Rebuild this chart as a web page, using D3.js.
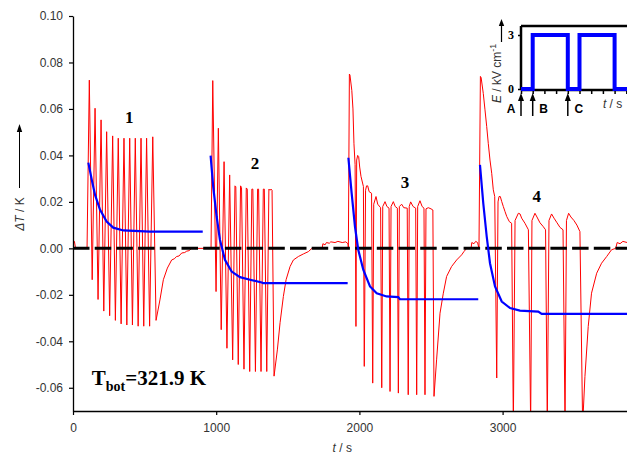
<!DOCTYPE html>
<html>
<head>
<meta charset="utf-8">
<script src="https://cdn.jsdelivr.net/npm/d3@7"></script>
<style>
body { margin: 0; background: #fff; }
svg { display: block; }
</style>
</head>
<body>
<svg width="627" height="454"></svg>
<script>
// red trace: measured dT (t in s, dT in K)
const redPre = [[0,0.003],[10,0.003],[18,0],[98,0]];
const redRun1 = [[114,0.0724],[134,-0.0135],[154,0.0603],[175,-0.022],[196,0.0553],[215,-0.027],[235,0.0502],[256,-0.029],
  [277,0.0484],[296,-0.031],[316,0.0474],[336,-0.0325],[356,0.0474],[376,-0.033],[396,0.0474],[415,-0.033],[435,0.0474],
  [455,-0.0335],[475,0.0474],[494,-0.0335],[514,0.0474],[535,-0.0335],[557,0.048],[580,-0.031],[607,-0.0222],[631,-0.0135],
  [659,-0.0085],[689,-0.005],[707,-0.0045],[724,-0.0035],[740,-0.0033],[759,-0.002],[780,-0.0018],[794,-0.0012],[810,-0.001],
  [829,0],[964,0]];
const redRun2 = [[976,0.0722],[999,-0.0186],[1015,0.0517],[1035,-0.035],[1055,0.0373],[1075,-0.043],[1094,0.0316],[1115,-0.048],
  [1131,0.0269],[1137,0.0265],[1154,-0.050],[1170,0.0269],[1177,0.0262],[1194,-0.052],[1210,0.026],[1217,0.0255],[1234,-0.053],
  [1249,0.0255],[1256,0.0255],[1274,-0.053],[1289,0.0255],[1296,0.0255],[1313,-0.053],[1329,0.0255],[1336,0.0255],[1353,-0.053],
  [1368,0.0255],[1376,0.025],[1383,0.0255],[1390,0.025],[1404,-0.055],[1427,-0.0437],[1446,-0.032],[1469,-0.0207],[1488,-0.0135],
  [1516,-0.0078],[1539,-0.005],[1574,-0.0035],[1609,-0.0024],[1644,-0.0014],[1668,0],[1740,0],[1745,0.002],[1760,0.0015],
  [1770,0.0025],[1790,0.0022],[1800,0.0028],[1830,0.0025],[1850,0.003],[1880,0.0025],[1905,0.0028],[1920,0.002],[1923,0]];
const redRun3 = [[1930,0.075],[1934,0.0746],[1947,0.068],[1955,0.06],[1962,0.045],[1970,0.036],[1976,-0.0336],[1981,0.038],
  [1988,0.040],[1995,0.0395],[2002,0.035],[2011,0.031],[2028,0.0266],[2034,-0.0508],[2043,0.025],[2050,0.0269],[2058,0.0269],
  [2068,0.0244],[2085,0.0237],[2093,-0.058],
  [2100,0.019],[2116,0.0223],[2128,0.019],[2148,0.0175],[2156,-0.060],
  [2163,0.018],[2179,0.0201],[2192,0.018],[2207,0.0173],[2214,-0.0616],
  [2221,0.018],[2237,0.0201],[2250,0.018],[2265,0.0173],[2272,-0.0623],
  [2279,0.018],[2295,0.019],[2310,0.0175],[2334,0.0173],[2341,-0.063],
  [2348,0.018],[2358,0.020],[2375,0.018],[2393,0.0173],[2400,-0.063],
  [2407,0.018],[2423,0.0205],[2438,0.018],[2451,0.0173],[2458,-0.063],
  [2465,0.017],[2481,0.0175],[2500,0.017],[2513,0.0165],[2521,-0.0637],
  [2539,-0.048],[2563,-0.0279],[2586,-0.0193],[2609,-0.0121],[2644,-0.0078],[2679,-0.005],[2714,-0.0028],[2730,-0.0014],
  [2749,0],[2780,0],[2785,0.0025],[2800,0.002],[2812,0.003],[2825,0.0025],[2835,0]];
const redRun4 = [[2845,0.074],[2850,0.0735],[2865,0.0667],[2877,0.0596],[2889,0.0524],[2900,0.0452],[2912,0.038],[2924,0.0323],
  [2935,0.0252],[2945,0.0223],[2959,-0.0558],[2968,0.020],[2975,0.0223],[2984,0.0223],[2994,0.0201],[3005,0.018],[3017,0.0158],
  [3029,0.0137],[3047,0.0115],[3063,0.0108],[3075,-0.076],
  [3087,0.012],[3110,0.0151],[3122,0.0148],[3133,0.013],[3156,0.0108],[3180,0.008],[3196,-0.076],
  [3205,0.012],[3226,0.0151],[3240,0.0135],[3261,0.011],[3282,0.0095],[3300,0.008],[3312,-0.076],
  [3324,0.012],[3342,0.0148],[3359,0.013],[3380,0.011],[3401,0.009],[3422,0.008],[3436,-0.076],
  [3446,0.012],[3461,0.0151],[3477,0.0135],[3498,0.012],[3519,0.01],[3540,0.0072],[3559,-0.076],
  [3575,-0.0551],[3598,-0.0336],[3621,-0.0193],[3657,-0.0107],[3691,-0.0064],[3727,-0.0035],[3761,-0.0006],[3790,0],
  [3800,0.0025],[3820,0.002],[3840,0.003],[3870,0.0025]];

// blue fitted curves
const blueRun1 = [[107,0.0369],[131,0.0295],[154,0.023],[189,0.0166],[235,0.0115],[281,0.0089],[351,0.0077],[538,0.0072],[906,0.0072]];
const blueRun2 = [[961,0.0399],[979,0.0266],[1003,0.0137],[1026,0.0037],[1061,-0.0049],[1108,-0.010],[1166,-0.0124],[1236,-0.0135],
  [1318,-0.0147],[1329,-0.015],[1918,-0.015]];
const blueRun3 = [[1923,0.039],[1946,0.0237],[1969,0.0094],[1992,-0.0006],[2027,-0.0092],[2074,-0.0164],[2121,-0.0193],[2190,-0.0207],
  [2271,-0.021],[2283,-0.0219],[2830,-0.0219]];
const blueRun4 = [[2842,0.0359],[2865,0.0194],[2889,0.0051],[2912,-0.0064],[2947,-0.0164],[2994,-0.0229],[3052,-0.0257],[3121,-0.0268],
  [3249,-0.0272],[3273,-0.0282],[3900,-0.0282]];

const yTicks = [-0.06, -0.04, -0.02, 0, 0.02, 0.04, 0.06, 0.08, 0.10];
const xTicks = [0, 1000, 2000, 3000];

const runLabels = ["1", "2", "3", "4"];
const runLabelT = [393, 1271, 2318, 3238];
const runLabelV = [0.0567, 0.0366, 0.0287, 0.0223];

// inset: field pulses
const fieldT = [0, 1, 1, 4, 4, 5, 5, 8, 8, 9.5];
const fieldE = [0, 0, 3, 3, 0, 0, 3, 3, 0, 0];
const eventT = [0, 1, 4];
const eventLabels = ["A", "B", "C"];

const svg = d3.select("svg");
const sans = "'Liberation Sans', Arial, sans-serif";
const serif = "'Liberation Serif', 'Times New Roman', serif";

const x = d3.scaleLinear().domain([0, 4000]).range([73, 645.8]);
const y = d3.scaleLinear().domain([-0.07, 0.10]).range([411, 16]);

svg.append("defs").append("clipPath").attr("id", "plot")
  .append("rect").attr("x", x(0)).attr("y", 0).attr("width", 627 - x(0)).attr("height", y(-0.07));

const line = d3.line().x(d => x(d[0])).y(d => y(d[1]));
const plot = svg.append("g").attr("clip-path", "url(#plot)");

const redTrace = [].concat(redPre, redRun1, redRun2, redRun3, redRun4);
plot.append("path").datum(redTrace)
  .attr("d", line).attr("fill", "none").attr("stroke", "#ff0000").attr("stroke-width", 1);

plot.append("line")
  .attr("x1", x(0)).attr("x2", 627).attr("y1", y(0)).attr("y2", y(0))
  .attr("stroke", "#000").attr("stroke-width", 3).attr("stroke-dasharray", "16.5,5.2");

plot.selectAll("path.fit").data([blueRun1, blueRun2, blueRun3, blueRun4]).enter()
  .append("path").attr("class", "fit")
  .attr("d", line).attr("fill", "none").attr("stroke", "#0000ff").attr("stroke-width", 2.2);

// axes
const fmt = d => d3.format(".2f")(d).replace("\u2212", "-");
const yAxis = svg.append("g").attr("transform", `translate(${x(0)},0)`)
  .call(d3.axisLeft(y).tickValues(yTicks).tickFormat(fmt).tickSize(4).tickSizeOuter(0).tickPadding(6));
const xAxis = svg.append("g").attr("transform", `translate(0,${y(-0.07)})`)
  .call(d3.axisBottom(x).tickValues(xTicks).tickFormat(d3.format("d")).tickSize(4).tickSizeOuter(0).tickPadding(8));
[yAxis, xAxis].forEach(g => {
  g.select(".domain").attr("stroke", "#000").attr("stroke-width", 1.3);
  g.selectAll(".tick line").attr("stroke", "#000").attr("stroke-width", 1.2);
  g.selectAll(".tick text").attr("fill", "#333").style("font-family", sans).style("font-size", "12px");
});

// y title with arrow
const yTitle = svg.append("text")
  .attr("transform", "translate(24,214) rotate(-90)")
  .attr("text-anchor", "middle").attr("fill", "#333")
  .style("font-family", sans).style("font-size", "12px");
yTitle.append("tspan").style("font-style", "italic").text("\u0394T");
yTitle.append("tspan").text(" / K");
svg.append("line").attr("x1", 19.5).attr("x2", 19.5).attr("y1", 188).attr("y2", 130)
  .attr("stroke", "#000").attr("stroke-width", 1);
svg.append("path").attr("d", "M19.5,124 L16.8,132 L22.2,132 Z").attr("fill", "#000");

// x title
const xTitle = svg.append("text").attr("x", x(1880)).attr("y", 452)
  .attr("text-anchor", "middle").attr("fill", "#333")
  .style("font-family", sans).style("font-size", "12px");
xTitle.append("tspan").style("font-style", "italic").text("t");
xTitle.append("tspan").text(" / s");

// run numbers
svg.selectAll("text.run").data(runLabels).enter()
  .append("text").attr("class", "run")
  .attr("x", (d, i) => x(runLabelT[i])).attr("y", (d, i) => y(runLabelV[i]))
  .attr("dy", "0.35em").attr("text-anchor", "middle")
  .style("font-family", serif).style("font-weight", "bold").style("font-size", "17px")
  .text(d => d);

// T_bot
const tb = svg.append("text").attr("x", x(131)).attr("y", y(-0.0587))
  .style("font-family", serif).style("font-weight", "bold").style("font-size", "21px");
tb.append("tspan").text("T");
tb.append("tspan").attr("dy", 6).style("font-size", "14px").text("bot");
tb.append("tspan").attr("dy", -6).text("=321.9 K");

// inset
const ix = d3.scaleLinear().domain([0, 9]).range([521, 626.3]);
const iy = d3.scaleLinear().domain([0, 3]).range([89, 35]);
const inset = svg.append("g");

inset.append("line").attr("x1", ix(0)).attr("x2", 640).attr("y1", iy(3.5)).attr("y2", iy(3.5))
  .attr("stroke", "#000").attr("stroke-width", 2.5);

const iyAxis = inset.append("g").attr("transform", `translate(${ix(0)},0)`)
  .call(d3.axisLeft(iy).tickValues([0, 3]).tickFormat(d3.format("d")).tickSize(3).tickSizeOuter(0).tickPadding(4));
iyAxis.select(".domain").attr("d", `M0,${iy(3.5)}V${iy(0) + 1}`).attr("stroke", "#000").attr("stroke-width", 2.5);
iyAxis.selectAll(".tick line").attr("stroke", "#000").attr("stroke-width", 1.5);
iyAxis.selectAll(".tick text").attr("fill", "#000")
  .style("font-family", serif).style("font-weight", "bold").style("font-size", "12px");

const ixAxis = inset.append("g").attr("transform", `translate(0,${iy(0) + 1})`)
  .call(d3.axisBottom(ix).tickValues(d3.range(0, 10)).tickFormat("").tickSize(4).tickSizeOuter(0));
ixAxis.select(".domain").attr("d", `M${ix(0)},0H640`).attr("stroke", "#000").attr("stroke-width", 2.5);
ixAxis.selectAll(".tick line").attr("stroke", "#000").attr("stroke-width", 1.5);

const fieldLine = d3.line().x((d, i) => ix(fieldT[i])).y((d, i) => iy(fieldE[i]));
inset.append("path").datum(fieldE).attr("d", fieldLine)
  .attr("fill", "none").attr("stroke", "#0000ff").attr("stroke-width", 4);

// event arrows
const ev = inset.selectAll("g.ev").data(eventT).enter().append("g").attr("class", "ev")
  .attr("transform", d => `translate(${ix(d)},0)`);
ev.append("line").attr("y1", 116).attr("y2", 100).attr("stroke", "#000").attr("stroke-width", 1.5);
ev.append("path").attr("d", "M0,93 L-3,101 L3,101 Z").attr("fill", "#000");
ev.append("text").attr("x", (d, i) => i === 0 ? -10 : 11).attr("y", 113)
  .attr("text-anchor", "middle")
  .style("font-family", sans).style("font-weight", "bold").style("font-size", "12px")
  .text((d, i) => eventLabels[i]);

const its = inset.append("text").attr("x", ix(7)).attr("y", 108)
  .attr("fill", "#333").style("font-family", sans).style("font-size", "12px");
its.append("tspan").style("font-style", "italic").text("t");
its.append("tspan").text(" / s");

const eTitle = inset.append("text").attr("transform", "translate(501,103) rotate(-90)")
  .attr("fill", "#333").style("font-family", sans).style("font-size", "12px");
eTitle.append("tspan").style("font-style", "italic").text("E");
eTitle.append("tspan").text(" / kV cm");
eTitle.append("tspan").attr("dy", -5).style("font-size", "9px").text("-1");
inset.append("line").attr("x1", 501.5).attr("x2", 501.5).attr("y1", 42).attr("y2", 25)
  .attr("stroke", "#000").attr("stroke-width", 1.2);
inset.append("path").attr("d", "M501.5,19 L498.8,26 L504.2,26 Z").attr("fill", "#000");
</script>
</body>
</html>
